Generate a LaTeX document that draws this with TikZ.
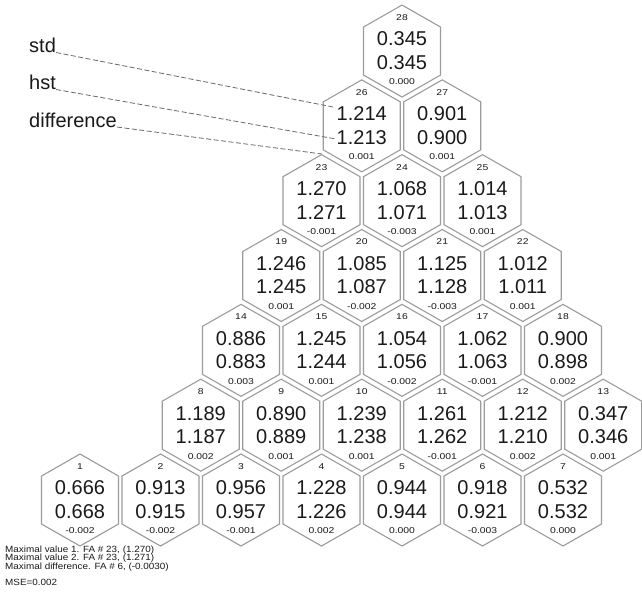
\documentclass[tikz,border=0pt]{standalone}
\usepackage{fontspec}
\setmainfont{Liberation Sans}
\usepackage{graphicx}
\definecolor{hexgray}{HTML}{9C9C9C}
\definecolor{ink}{HTML}{1A1A1A}
\definecolor{leadgray}{HTML}{6A6A6A}
\newcommand\widetext[1]{\scalebox{1.22}[1]{#1}}
\newcommand\notewide[1]{\scalebox{1.1}[1]{#1}}
\tikzset{
  hexline/.style={draw=hexgray, line width=1.1pt, line join=miter},
  bigval/.style={font=\fontsize{20}{22}\selectfont, text=ink, inner sep=0pt},
  smallnum/.style={font=\fontsize{8.5}{9}\selectfont, text=ink, inner sep=0pt},
  legendtxt/.style={font=\fontsize{20}{22}\selectfont, text=ink, inner sep=0pt, anchor=base west},
  leader/.style={draw=leadgray, line width=0.8pt, dash pattern=on 5pt off 2.5pt},
  notetxt/.style={font=\fontsize{9}{10}\selectfont, text=ink, inner sep=0pt, anchor=west},
}
\begin{document}
\begin{tikzpicture}[x=1pt, y=-1pt]
\useasboundingbox (0,0) rectangle (642,606);
\fill[white] (0,0) rectangle (642,606);

% fuel assembly cells: id / row / column / std / hst / difference
\foreach \id/\r/\c/\va/\vb/\vd in {
  1/1/1/0.666/0.668/-0.002, 2/1/2/0.913/0.915/-0.002, 3/1/3/0.956/0.957/-0.001,
  4/1/4/1.228/1.226/0.002, 5/1/5/0.944/0.944/0.000, 6/1/6/0.918/0.921/-0.003,
  7/1/7/0.532/0.532/0.000,
  8/2/1/1.189/1.187/0.002, 9/2/2/0.890/0.889/0.001, 10/2/3/1.239/1.238/0.001,
  11/2/4/1.261/1.262/-0.001, 12/2/5/1.212/1.210/0.002, 13/2/6/0.347/0.346/0.001,
  14/3/1/0.886/0.883/0.003, 15/3/2/1.245/1.244/0.001, 16/3/3/1.054/1.056/-0.002,
  17/3/4/1.062/1.063/-0.001, 18/3/5/0.900/0.898/0.002,
  19/4/1/1.246/1.245/0.001, 20/4/2/1.085/1.087/-0.002, 21/4/3/1.125/1.128/-0.003,
  22/4/4/1.012/1.011/0.001,
  23/5/1/1.270/1.271/-0.001, 24/5/2/1.068/1.071/-0.003, 25/5/3/1.014/1.013/0.001,
  26/6/1/1.214/1.213/0.001, 27/6/2/0.901/0.900/0.001,
  28/7/1/0.345/0.345/0.000}
{
  \pgfmathsetmacro\hx{\r==1 ? 80+(\c-1)*80.5 : 80+40.25*(\r+1)+(\c-1)*80.5}
  \pgfmathsetmacro\hy{500-(\r-1)*74.83}
  \coordinate (fa\id) at (\hx,\hy);
  \draw[hexline] (fa\id) ++(0,-46) -- ++(38.5,22) -- ++(0,48) -- ++(-38.5,22)
                 -- ++(-38.5,-22) -- ++(0,-48) -- cycle;
  \node[smallnum] (num\id) at ([yshift=33.5pt]fa\id) {\widetext{\id}};
  \node[bigval]   (std\id) at ([yshift=12pt]fa\id) {\va};
  \node[bigval]   (hst\id) at ([yshift=-11.5pt]fa\id) {\vb};
  \node[smallnum] (dif\id) at ([yshift=-31pt]fa\id) {\widetext{\vd}};
}

% legend with leader lines into cell 26
\node[legendtxt] (lstd) at (29,52.5) {std};
\node[legendtxt] (lhst) at (29,89.5) {hst};
\node[legendtxt] (ldif) at (29,127) {difference};
\coordinate (estd) at (333,107);
\coordinate (ehst) at (336,139);
\coordinate (edif) at (322,154);
\draw[leader] (lstd.base east) -- (estd);
\draw[leader] (lhst.base east) -- (ehst);
\draw[leader] (ldif.base east) -- (edif);

% summary notes
\node[notetxt] (note1) at (5,550) {\notewide{Maximal value 1. FA \# 23, (1.270)}};
\node[notetxt] (note2) at (5,558.5) {\notewide{Maximal value 2. FA \# 23, (1.271)}};
\node[notetxt] (note3) at (5,567) {\notewide{Maximal difference. FA \# 6, (-0.0030)}};
\node[notetxt] (note4) at (5,582) {\notewide{MSE=0.002}};
\end{tikzpicture}
\end{document}
